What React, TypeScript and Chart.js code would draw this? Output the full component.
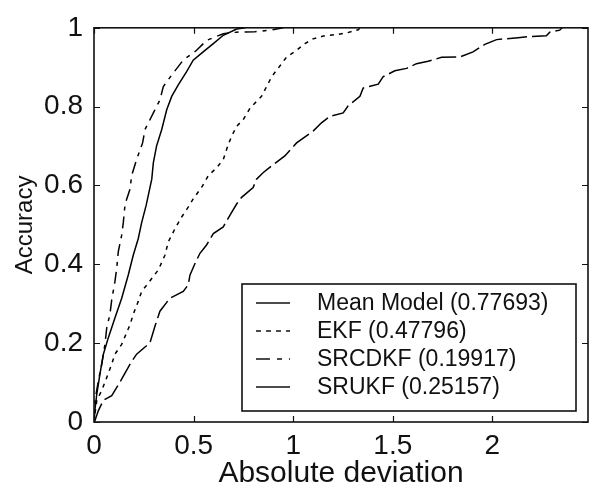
import React, { useEffect, useRef } from "react";
import { Chart, registerables } from "chart.js";

Chart.register(...registerables);

const xTicks = [0, 0.5, 1, 1.5, 2];
const yTicks = [0, 0.2, 0.4, 0.6, 0.8, 1];
const xMax = 2.48;
const xTitle = "Absolute deviation";
const yTitle = "Accuracy";
const seriesLabels = [
  "Mean Model (0.77693)",
  "EKF (0.47796)",
  "SRCDKF (0.19917)",
  "SRUKF (0.25157)",
];

const meanModelX = [0, 0.005, 0.022, 0.047, 0.089, 0.13, 0.181, 0.214, 0.281, 0.306, 0.331, 0.381, 0.448, 0.473, 0.482, 0.507, 0.532, 0.565, 0.599, 0.649, 0.682, 0.716, 0.741, 0.799, 0.816, 0.85, 0.892, 0.958, 1.017, 1.1, 1.142, 1.184, 1.251, 1.276, 1.335, 1.351, 1.427, 1.452, 1.51, 1.569, 1.619, 1.677, 1.745, 1.836, 1.903, 1.962, 2.021, 2.129, 2.196, 2.271, 2.288, 2.338, 2.35];
const meanModelY = [0, 0.004, 0.029, 0.055, 0.067, 0.101, 0.147, 0.172, 0.201, 0.243, 0.281, 0.314, 0.331, 0.348, 0.373, 0.402, 0.428, 0.449, 0.478, 0.495, 0.524, 0.553, 0.57, 0.595, 0.616, 0.633, 0.65, 0.675, 0.708, 0.738, 0.759, 0.775, 0.784, 0.802, 0.826, 0.847, 0.857, 0.876, 0.891, 0.897, 0.909, 0.915, 0.925, 0.926, 0.939, 0.958, 0.97, 0.975, 0.978, 0.98, 0.989, 0.994, 1.0];

const ekfX = [0, 0.005, 0.014, 0.039, 0.064, 0.089, 0.105, 0.139, 0.181, 0.197, 0.222, 0.239, 0.272, 0.323, 0.356, 0.373, 0.406, 0.44, 0.473, 0.498, 0.54, 0.574, 0.616, 0.649, 0.674, 0.691, 0.716, 0.749, 0.783, 0.841, 0.892, 0.933, 0.967, 1.017, 1.059, 1.1, 1.151, 1.218, 1.268, 1.326, 1.335];
const ekfY = [0, 0.021, 0.055, 0.08, 0.113, 0.147, 0.172, 0.197, 0.247, 0.273, 0.306, 0.331, 0.352, 0.386, 0.423, 0.457, 0.49, 0.52, 0.545, 0.566, 0.595, 0.625, 0.645, 0.666, 0.704, 0.725, 0.75, 0.767, 0.796, 0.826, 0.876, 0.903, 0.926, 0.943, 0.96, 0.972, 0.979, 0.983, 0.987, 0.995, 1.0];

const srcdkfX = [0, 0.002, 0.005, 0.022, 0.039, 0.055, 0.064, 0.08, 0.089, 0.105, 0.114, 0.122, 0.139, 0.147, 0.156, 0.181, 0.189, 0.214, 0.244, 0.256, 0.298, 0.331, 0.348, 0.39, 0.448, 0.515, 0.565, 0.649, 0.716, 0.808, 0.896, 0.95];
const srcdkfY = [0, 0.01, 0.055, 0.105, 0.147, 0.197, 0.239, 0.273, 0.31, 0.356, 0.39, 0.432, 0.474, 0.505, 0.553, 0.591, 0.625, 0.666, 0.708, 0.742, 0.784, 0.817, 0.851, 0.88, 0.918, 0.943, 0.968, 0.985, 0.989, 0.99, 0.995, 1.0];

const srukfX = [0, 0.002, 0.014, 0.03, 0.047, 0.072, 0.105, 0.139, 0.172, 0.197, 0.222, 0.239, 0.262, 0.29, 0.298, 0.314, 0.34, 0.365, 0.39, 0.423, 0.465, 0.498, 0.548, 0.599, 0.649, 0.716, 0.76];
const srukfY = [0, 0.02, 0.071, 0.122, 0.172, 0.214, 0.264, 0.314, 0.373, 0.423, 0.465, 0.505, 0.55, 0.616, 0.658, 0.7, 0.742, 0.792, 0.826, 0.855, 0.889, 0.918, 0.939, 0.96, 0.981, 0.997, 1.0];

const seriesX = [meanModelX, ekfX, srcdkfX, srukfX];
const seriesY = [meanModelY, ekfY, srcdkfY, srukfY];
const curveDashes = [[20, 5], [4, 5], [12, 6, 4, 6], []];
const legendDashes = [[], [5, 5], [14, 7, 5, 7], []];

const FONT = "'Liberation Sans', Arial, sans-serif";
const INK = "#111";

const framePlugin = {
  id: "frameAndLegend",
  afterDraw(chart: any) {
    const { ctx, chartArea: a, scales } = chart;
    ctx.save();
    ctx.setLineDash([]);
    ctx.strokeStyle = INK;
    ctx.lineWidth = 1.6;
    ctx.strokeRect(a.left, a.top, a.right - a.left, a.bottom - a.top);
    const tl = 6;
    ctx.beginPath();
    xTicks.forEach((v) => {
      const px = Math.round(scales.x.getPixelForValue(v)) + 0.5;
      ctx.moveTo(px, a.bottom);
      ctx.lineTo(px, a.bottom - tl);
      ctx.moveTo(px, a.top);
      ctx.lineTo(px, a.top + tl);
    });
    yTicks.forEach((v) => {
      const py = Math.round(scales.y.getPixelForValue(v)) + 0.5;
      ctx.moveTo(a.left, py);
      ctx.lineTo(a.left + tl, py);
      ctx.moveTo(a.right, py);
      ctx.lineTo(a.right - tl, py);
    });
    ctx.lineWidth = 1.2;
    ctx.stroke();

    // legend box
    const left = a.right - 346;
    const right = a.right - 12;
    const top = a.bottom - 138;
    const bottom = a.bottom - 11;
    ctx.fillStyle = "#fff";
    ctx.fillRect(left, top, right - left, bottom - top);
    ctx.lineWidth = 1.6;
    ctx.strokeRect(left, top, right - left, bottom - top);
    ctx.font = `23px ${FONT}`;
    ctx.textBaseline = "middle";
    ctx.textAlign = "left";
    ctx.fillStyle = INK;
    seriesLabels.forEach((label, i) => {
      const y = top + 19 + i * 28;
      ctx.beginPath();
      ctx.setLineDash(legendDashes[i]);
      ctx.lineWidth = 1.5;
      ctx.moveTo(left + 14, y);
      ctx.lineTo(left + 48, y);
      ctx.stroke();
      ctx.setLineDash([]);
      ctx.fillText(label, left + 75, y + 1);
    });
    ctx.restore();
  },
};

export default function App() {
  const canvasRef = useRef<HTMLCanvasElement | null>(null);

  useEffect(() => {
    document.body.style.margin = "0";
    const canvas = canvasRef.current;
    if (!canvas) return;
    const datasets = seriesLabels.map((label, i) => ({
      label,
      data: seriesX[i].map((x, j) => ({ x, y: seriesY[i][j] })),
      showLine: true,
      borderColor: "#000",
      borderWidth: 1.5,
      borderDash: curveDashes[i],
      pointRadius: 0,
      fill: false,
      tension: 0,
    }));
    const chart = new Chart(canvas, {
      type: "scatter",
      data: { datasets },
      options: {
        responsive: false,
        animation: false,
        devicePixelRatio: 1,
        layout: { padding: { top: 24, right: 3, left: 0, bottom: 0 } },
        plugins: {
          legend: { display: false },
          tooltip: { enabled: false },
        },
        scales: {
          x: {
            type: "linear",
            min: 0,
            max: xMax,
            grid: { display: false, drawTicks: false },
            border: { display: false },
            afterBuildTicks: (s: any) => {
              s.ticks = xTicks.map((v) => ({ value: v }));
            },
            afterFit: (s: any) => {
              s.height = 67;
            },
            ticks: {
              padding: 7,
              color: INK,
              font: { family: FONT, size: 28 },
              maxRotation: 0,
              autoSkip: false,
              callback: (v: any) => String(v),
            },
            title: {
              display: true,
              text: xTitle,
              color: INK,
              font: { family: FONT, size: 30, lineHeight: 1 },
              padding: { top: 0, bottom: 0 },
            },
          },
          y: {
            type: "linear",
            min: 0,
            max: 1,
            grid: { display: false, drawTicks: false },
            border: { display: false },
            afterBuildTicks: (s: any) => {
              s.ticks = yTicks.map((v) => ({ value: v }));
            },
            afterFit: (s: any) => {
              s.width = 94;
            },
            ticks: {
              padding: 11,
              color: INK,
              font: { family: FONT, size: 28 },
              autoSkip: false,
              callback: (v: any) => String(v),
            },
            title: {
              display: true,
              text: yTitle,
              color: INK,
              font: { family: FONT, size: 24, lineHeight: 1.2 },
              padding: { top: 11, bottom: 0 },
            },
          },
        },
      },
      plugins: [framePlugin],
    });
    return () => chart.destroy();
  }, []);

  return (
    <div style={{ width: 591, height: 489 }}>
      <canvas ref={canvasRef} width={591} height={489} style={{ display: "block" }} />
    </div>
  );
}
